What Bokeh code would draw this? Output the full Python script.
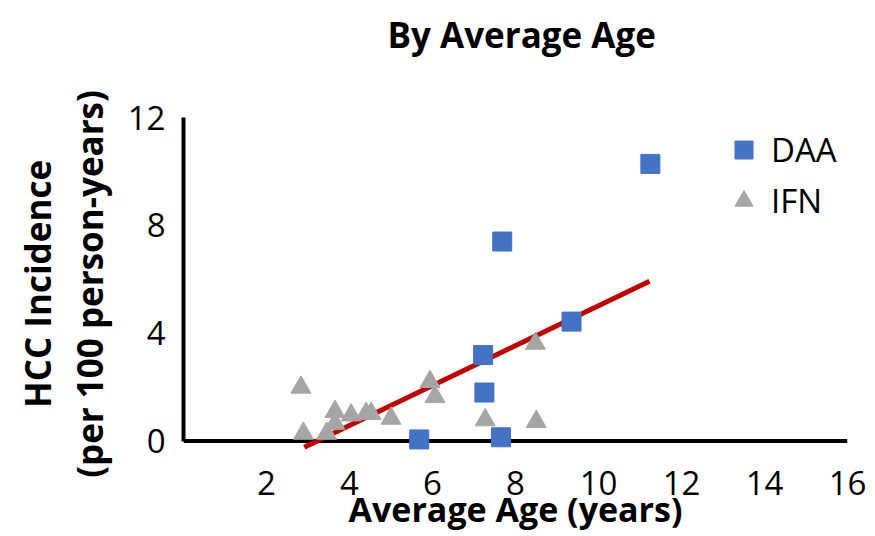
from bokeh.plotting import figure
from bokeh.models import (Range1d, FixedTicker, Legend, LegendItem, Title,
                          ColumnDataSource, Span)
from bokeh.embed import file_html
from bokeh.resources import INLINE

# HCC incidence (per 100 person-years) vs. average age (years)
daa_age = [5.68, 7.22, 7.25, 7.65, 7.68, 9.35, 11.25]
daa_inc = [0.06, 3.19, 1.80, 0.14, 7.40, 4.43, 10.28]

ifn_age = [2.83, 2.89, 3.45, 3.65, 3.65, 4.04, 4.40, 4.52, 5.00, 5.94, 6.06, 7.27, 8.48, 8.50]
ifn_inc = [1.99, 0.28, 0.28, 1.09, 0.65, 0.96, 1.02, 1.02, 0.84, 2.20, 1.64, 0.78, 3.62, 0.72]

# linear trend across all studies (end points)
trend_age = [2.91, 11.23]
trend_inc = [-0.23, 5.93]

x_ticks = [2, 4, 6, 8, 10, 12, 14, 16]
y_ticks = [0, 4, 8, 12]

BLUE = "#4472C4"
GREY = "#A5A5A5"
RED = "#C00000"
FONT = "Open Sans"

p = figure(width=875, height=536, output_backend="svg", toolbar_location=None,
           x_range=Range1d(0, 16), y_range=Range1d(-0.35, 12),
           min_border_left=183, min_border_right=28, min_border_top=117,
           min_border_bottom=86, title=None)
p.outline_line_color = None
p.xgrid.visible = False
p.ygrid.visible = False
p.background_fill_color = "white"
p.border_fill_color = "white"

# empty band between the heading and the plot area
p.add_layout(Title(text=" ", text_font_size="10px", standoff=37), "above")
# heading
p.add_layout(Title(text="By Average Age", align="left", offset=204,
                   vertical_align="top", standoff=16,
                   text_font=FONT, text_font_size="35px",
                   text_font_style="bold", text_color="black"), "above")

# axes
for ax in (p.xaxis[0], p.yaxis[0]):
    ax.axis_line_width = 4
    ax.axis_line_color = "black"
    ax.major_tick_line_color = None
    ax.minor_tick_line_color = None
    ax.major_tick_in = 0
    ax.major_tick_out = 0
    ax.major_label_text_font = FONT
    ax.major_label_text_font_size = "33px"
    ax.major_label_text_color = "black"
    ax.axis_label_text_font = FONT
    ax.axis_label_text_font_style = "bold"
    ax.axis_label_text_color = "black"

xa = p.xaxis[0]
xa.ticker = FixedTicker(ticks=x_ticks)
xa.axis_line_color = None
xa.axis_label = "Average Age (years)"
xa.axis_label_text_font_size = "34px"
xa.major_label_standoff = 20
xa.axis_label_standoff = -12

ya = p.yaxis[0]
ya.ticker = FixedTicker(ticks=y_ticks)
ya.bounds = (0, 12)
ya.axis_label = "HCC Incidence\n(per 100 person-years)"
ya.axis_label_text_font_size = "35px"
ya.axis_label_text_line_height = 1.1
ya.major_label_standoff = 18
ya.axis_label_standoff = 12

# horizontal axis line at zero incidence, beneath the markers
p.add_layout(Span(location=0, dimension="width", line_color="black",
                  line_width=4, level="underlay"))

# trend line
p.line(trend_age, trend_inc, line_color=RED, line_width=5)

# study points
ifn_src = ColumnDataSource(dict(x=ifn_age, y=ifn_inc))
daa_src = ColumnDataSource(dict(x=daa_age, y=daa_inc))
ifn_r = p.scatter("x", "y", source=ifn_src, marker="triangle", size=20,
                  fill_color=GREY, line_color=GREY, line_width=1)
daa_r = p.scatter("x", "y", source=daa_src, marker="square", size=19,
                  fill_color=BLUE, line_color=BLUE, line_width=1)

legend = Legend(items=[LegendItem(label="DAA", renderers=[daa_r]),
                       LegendItem(label="IFN", renderers=[ifn_r])],
                location=(538, 227), orientation="vertical",
                glyph_width=45, glyph_height=45, label_standoff=5,
                spacing=6, padding=0, margin=0,
                label_text_font=FONT, label_text_font_size="33px",
                label_text_color="black",
                border_line_color=None, background_fill_alpha=0)
p.add_layout(legend)

open("out.html", "w").write(file_html(p, INLINE))
